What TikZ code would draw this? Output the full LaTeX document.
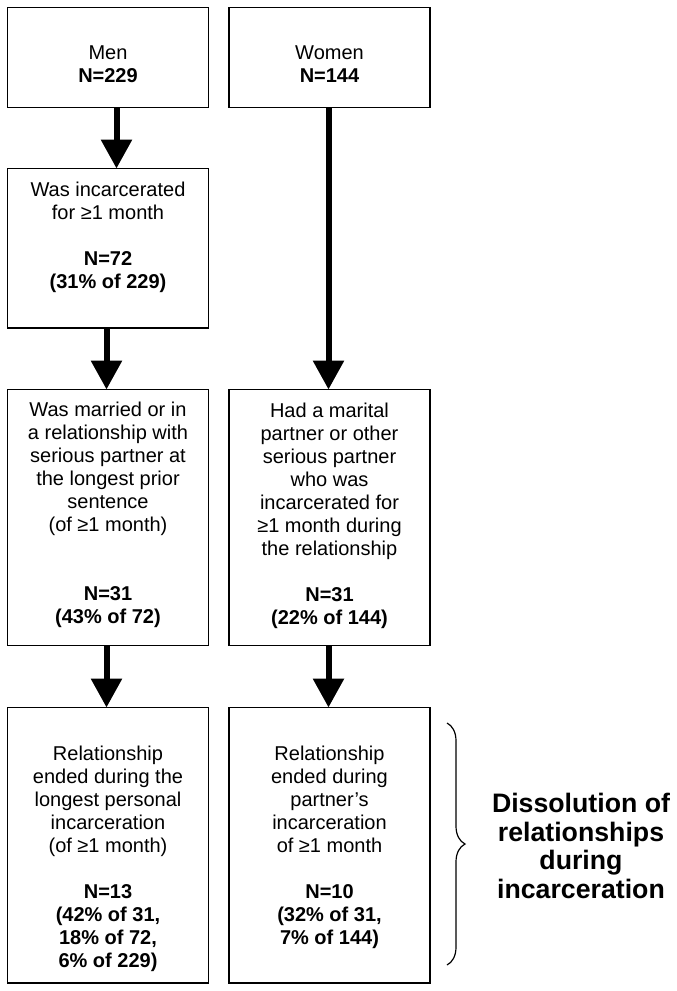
\documentclass[tikz,border=0pt]{standalone}
\usepackage{fontspec}
\setmainfont{Liberation Sans}
\usetikzlibrary{arrows.meta,decorations.pathreplacing}
\begin{document}
\begin{tikzpicture}[x=1pt,y=-1pt,
  box/.style={draw,line width=1.5pt,minimum width=201pt,inner sep=0pt,outer sep=0pt},
  btext/.style={font=\fontsize{20}{23}\selectfont,align=center,inner sep=0pt,anchor=north},
  bigarrow/.style={line width=6pt,-{Triangle[width=30pt,length=29pt]}},
  bracestyle/.style={line width=1.2pt,decorate,decoration={brace,amplitude=18pt}}]
\useasboundingbox (0,0) rectangle (677,991);
% boxes
\node[box,minimum height=100pt] (men) at (108,57.5) {};
\node[box,minimum height=100pt] (women) at (329.5,57.5) {};
\node[box,minimum height=159.5pt] (inc) at (108,248.25) {};
\node[box,minimum height=256pt] (mar) at (108,517.5) {};
\node[box,minimum height=256pt] (wmid) at (329.5,517.5) {};
\node[box,minimum height=275.5pt] (mend) at (108,845.25) {};
\node[box,minimum height=275.5pt] (wend) at (329.5,845.25) {};
% texts
\node[btext] (tmen) at (108,42.9) {\strut Men\\\bfseries N=229};
\node[btext] (twomen) at (329.5,42.9) {\strut Women\\\bfseries N=144};
\node[btext] (tinc) at (108,179.9) {\strut Was incarcerated\\for ≥1 month\\[23pt]\bfseries N=72\\\bfseries (31\% of 229)};
\node[btext] (tmar) at (108,399.9) {\strut Was married or in\\a relationship with\\serious partner at\\the longest prior\\sentence\\(of ≥1 month)\\[46pt]\bfseries N=31\\\bfseries (43\% of 72)};
\node[btext] (twmid) at (329.5,400.9) {\strut Had a marital\\partner or other\\serious partner\\who was\\incarcerated for\\≥1 month during\\the relationship\\[23pt]\bfseries N=31\\\bfseries (22\% of 144)};
\node[btext] (tmend) at (108,743.9) {\strut Relationship\\ended during the\\longest personal\\incarceration\\(of ≥1 month)\\[23pt]\bfseries N=13\\\bfseries (42\% of 31,\\\bfseries 18\% of 72,\\\bfseries 6\% of 229)};
\node[btext] (twend) at (329.5,743.9) {\strut Relationship\\ended during\\partner’s\\incarceration\\of ≥1 month\\[23pt]\bfseries N=10\\\bfseries (32\% of 31,\\\bfseries 7\% of 144)};
% arrows
\draw[bigarrow] ([xshift=8.5pt]men.south) -- ([xshift=8.5pt]inc.north);
\draw[bigarrow] ([xshift=-1.5pt]inc.south) -- ([xshift=-1.5pt]mar.north);
\draw[bigarrow] ([xshift=-1.5pt]mar.south) -- ([xshift=-1.5pt]mend.north);
\draw[bigarrow] ([xshift=-1pt]women.south) -- ([xshift=-1pt]wmid.north);
\draw[bigarrow] ([xshift=-1pt]wmid.south) -- ([xshift=-1pt]wend.north);
% brace and label
\coordinate (bt) at (447,723);
\coordinate (bb) at (447,965);
\draw[bracestyle] (bt) -- (bb);
\node[font=\fontsize{26.7}{28.5}\selectfont\bfseries,align=center,inner sep=0pt] (diss) at (581,846) {Dissolution of\\relationships\\during\\incarceration};
\end{tikzpicture}
\end{document}
